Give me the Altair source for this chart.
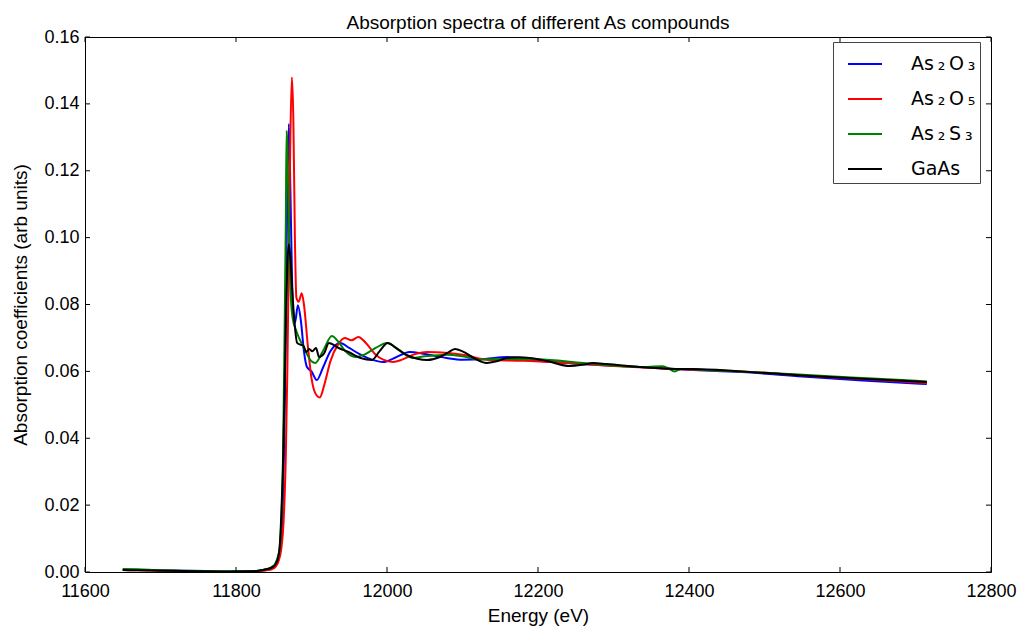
import altair as alt
import pandas as pd

# ---------------- data ----------------
series_names = ["As₂O₃", "As₂O₅", "As₂S₃", "GaAs"]
series_colors = ["#0000ff", "#ff0000", "#008000", "#000000"]

as2o3_e = [11650, 11670, 11700, 11730, 11760, 11790, 11815, 11830, 11840, 11848,
           11852, 11856, 11859, 11862, 11864, 11866, 11868, 11870, 11872, 11874,
           11876, 11878, 11882, 11886, 11890, 11894, 11900, 11907, 11915, 11925,
           11938, 11950, 11965, 11980, 11995, 12010, 12030, 12050, 12079, 12100,
           12130, 12159, 12200, 12260, 12335, 12400, 12470, 12550, 12630, 12715]
as2o3_mu = [0.0007, 0.0006, 0.0005, 0.0004, 0.0003, 0.0002, 0.0002, 0.0004, 0.0008, 0.0012,
            0.002, 0.004, 0.008, 0.02, 0.04, 0.075, 0.115, 0.134, 0.115, 0.09,
            0.077, 0.0745, 0.0798, 0.075, 0.066, 0.0613, 0.060, 0.0574, 0.061, 0.066,
            0.0685, 0.067, 0.065, 0.0635, 0.0628, 0.064, 0.0658, 0.0652, 0.064, 0.0635,
            0.0637, 0.0643, 0.0632, 0.0622, 0.0613, 0.0605, 0.0598, 0.0585, 0.0573, 0.0562]

as2o5_e = [11650, 11670, 11700, 11730, 11760, 11790, 11815, 11830, 11840, 11848,
           11852, 11856, 11860, 11863, 11866, 11868, 11870, 11872, 11874, 11876,
           11878, 11880, 11883, 11887, 11890, 11895, 11900, 11905, 11911, 11917,
           11925, 11935, 11944, 11953, 11962, 11972, 11985, 11995, 12008, 12020,
           12035, 12053, 12080, 12100, 12136, 12180, 12240, 12300, 12380, 12470,
           12550, 12630, 12715]
as2o5_mu = [0.0006, 0.0005, 0.0004, 0.0003, 0.0002, 0.0001, 0.0001, 0.0002, 0.0005, 0.0009,
            0.0015, 0.003, 0.007, 0.015, 0.035, 0.06, 0.095, 0.13, 0.148, 0.135,
            0.10, 0.082, 0.0808, 0.0834, 0.080, 0.068, 0.058, 0.0535, 0.0522, 0.056,
            0.063, 0.068, 0.070, 0.0693, 0.0703, 0.0685, 0.065, 0.0635, 0.0628, 0.0635,
            0.065, 0.0658, 0.0655, 0.065, 0.0634, 0.0632, 0.0625, 0.0616, 0.0607, 0.0600,
            0.0588, 0.0577, 0.0565]

as2s3_e = [11650, 11670, 11700, 11730, 11760, 11790, 11815, 11830, 11840, 11848,
           11852, 11856, 11858, 11860, 11862, 11864, 11866, 11867, 11868, 11870,
           11872, 11875, 11880, 11890, 11900, 11905, 11915, 11927, 11935, 11945,
           11958, 11970, 11985, 12000, 12015, 12034, 12050, 12079, 12100, 12123,
           12150, 12200, 12260, 12335, 12364, 12372, 12381, 12390, 12440, 12500,
           12580, 12650, 12715]
as2s3_mu = [0.0009, 0.0008, 0.0005, 0.0004, 0.0003, 0.0002, 0.0002, 0.0004, 0.0008, 0.0016,
            0.0025, 0.005, 0.0075, 0.015, 0.03, 0.065, 0.105, 0.132, 0.128, 0.105,
            0.085, 0.076, 0.072, 0.067, 0.063, 0.0625, 0.066, 0.0706, 0.069, 0.066,
            0.0643, 0.065, 0.067, 0.0685, 0.0665, 0.064, 0.0645, 0.065, 0.0645, 0.0635,
            0.0637, 0.0636, 0.0625, 0.0613, 0.0615, 0.0610, 0.0600, 0.0607, 0.0602, 0.0596,
            0.0586, 0.0578, 0.0570]

gaas_e = [11650, 11670, 11700, 11730, 11760, 11790, 11815, 11830, 11840, 11848,
          11852, 11856, 11858, 11860, 11862, 11864, 11866, 11868, 11870, 11872,
          11874, 11877, 11881, 11885, 11889, 11893, 11897, 11901, 11906, 11910,
          11917, 11923, 11936, 11949, 11965, 11980, 11990, 12001, 12012, 12026,
          12040, 12053, 12070, 12080, 12090, 12100, 12115, 12132, 12145, 12159,
          12175, 12189, 12212, 12242, 12260, 12273, 12291, 12335, 12379, 12405,
          12468, 12550, 12630, 12715]
gaas_mu = [0.0006, 0.0005, 0.0004, 0.0003, 0.0002, 0.0001, 0.0002, 0.0004, 0.0008, 0.0014,
           0.0022, 0.0045, 0.008, 0.017, 0.03, 0.05, 0.075, 0.092, 0.098, 0.094,
           0.086, 0.076, 0.0685, 0.068, 0.0678, 0.0658, 0.0667, 0.066, 0.067, 0.0643,
           0.0655, 0.0685, 0.067, 0.0658, 0.064, 0.0634, 0.066, 0.0685, 0.067, 0.0649,
           0.0638, 0.0634, 0.0643, 0.0655, 0.0667, 0.066, 0.064, 0.0625, 0.063, 0.064,
           0.0642, 0.064, 0.0631, 0.0616, 0.062, 0.0625, 0.0622, 0.0613, 0.0607, 0.0607,
           0.0600, 0.0588, 0.0578, 0.0568]

x_ticks = [11600, 11800, 12000, 12200, 12400, 12600, 12800]
y_ticks = [0.00, 0.02, 0.04, 0.06, 0.08, 0.10, 0.12, 0.14, 0.16]

# ---------------- table ----------------
rows = []
for name, es, ms in zip(series_names,
                        [as2o3_e, as2o5_e, as2s3_e, gaas_e],
                        [as2o3_mu, as2o5_mu, as2s3_mu, gaas_mu]):
    for e, m in zip(es, ms):
        rows.append({"series": name, "energy": e, "mu": m})
df = pd.DataFrame(rows)
xt = pd.DataFrame({"energy": x_ticks})
yt = pd.DataFrame({"mu": y_ticks})

W, H = 906, 535
FONT = "Liberation Sans"

xscale = alt.Scale(domain=[11600, 12800], nice=False, zero=False)
yscale = alt.Scale(domain=[0, 0.16], nice=False, zero=False)

axis_style = dict(ticks=False, domain=False, grid=False,
                  labelFont=FONT, labelFontSize=18, labelColor="black",
                  titleFont=FONT, titleFontSize=19, titleFontWeight="normal",
                  titleColor="black", labelFlush=False, labelOverlap=False)

x_enc = alt.X("energy:Q", scale=xscale,
              axis=alt.Axis(values=x_ticks, format="d", title="Energy (eV)",
                            labelPadding=10, titlePadding=6, **axis_style))
y_enc = alt.Y("mu:Q", scale=yscale,
              axis=alt.Axis(values=y_ticks, format=".2f",
                            title="Absorption coefficients (arb units)",
                            labelPadding=6, titlePadding=13, **axis_style))

label_expr = ("replace(replace(replace(datum.label, '₂', '\u2009₂\u2009'), "
              "'₃', '\u2009₃'), '₅', '\u2009₅')")

color_enc = alt.Color("series:N",
                      scale=alt.Scale(domain=series_names, range=series_colors),
                      legend=alt.Legend(title=None, orient="none",
                                        legendX=748, legendY=5,
                                        symbolType="stroke", symbolSize=1156,
                                        symbolStrokeWidth=2, symbolOffset=10,
                                        labelFont="DejaVu Sans", labelFontSize=19,
                                        labelColor="black", labelOffset=28,
                                        labelLimit=300,
                                        labelExpr=label_expr,
                                        padding=4, rowPadding=7,
                                        strokeColor="#444", fillColor="white"))

base = alt.Chart(df)
layers = []
for n in series_names:
    layers.append(
        base.transform_filter(alt.datum.series == n)
        .mark_line(strokeWidth=2, clip=True, interpolate="monotone")
        .encode(x=x_enc, y=y_enc, color=color_enc)
    )

tick_bottom = alt.Chart(xt).mark_rule(color="black").encode(
    x=alt.X("energy:Q", scale=xscale), y=alt.value(H), y2=alt.value(H - 5))
tick_top = alt.Chart(xt).mark_rule(color="black").encode(
    x=alt.X("energy:Q", scale=xscale), y=alt.value(0), y2=alt.value(5))
tick_left = alt.Chart(yt).mark_rule(color="black").encode(
    y=alt.Y("mu:Q", scale=yscale), x=alt.value(0), x2=alt.value(5))
tick_right = alt.Chart(yt).mark_rule(color="black").encode(
    y=alt.Y("mu:Q", scale=yscale), x=alt.value(W), x2=alt.value(W - 5))

chart = alt.layer(*layers, tick_bottom, tick_top, tick_left, tick_right).properties(
    width=W, height=H,
    background="white",
    title=alt.TitleParams("Absorption spectra of different As compounds",
                          font=FONT, fontSize=19, fontWeight="normal",
                          anchor="middle", offset=-5, color="black"),
    autosize=alt.AutoSizeParams(type="none"),
    padding={"left": 85, "top": 37, "right": 31, "bottom": 55},
).configure_view(stroke="black", strokeWidth=1)

chart.save("out.html", embed_options={"renderer": "svg", "actions": False})
